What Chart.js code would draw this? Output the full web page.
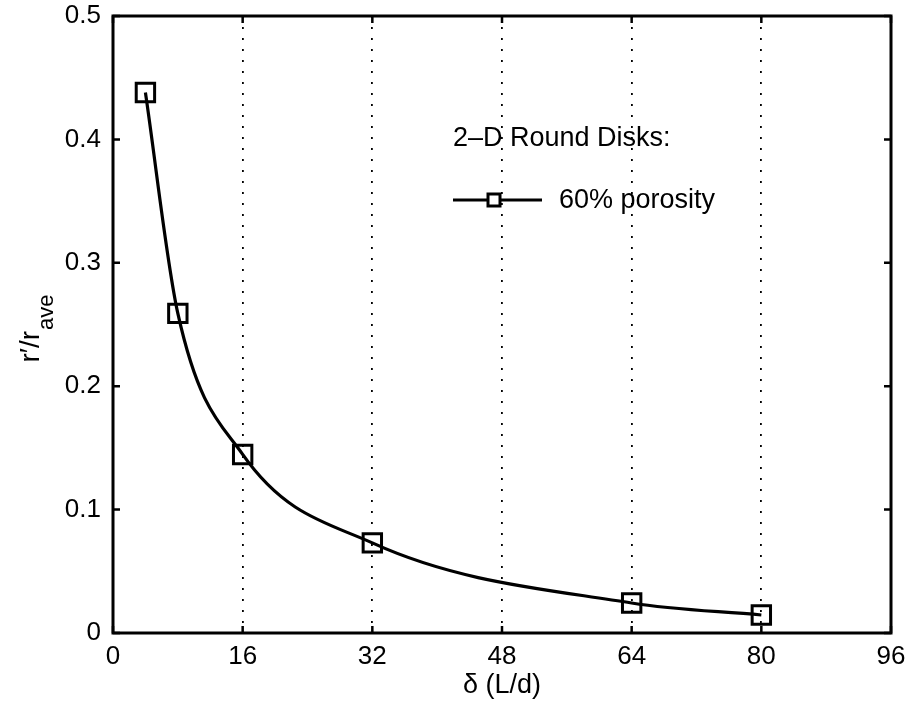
<!DOCTYPE html>
<html>
<head>
<meta charset="utf-8">
<script src="https://cdn.jsdelivr.net/npm/chart.js@4.4.1/dist/chart.umd.min.js"></script>
<style>
  html,body{margin:0;padding:0;background:#fff;}
  #wrap{width:909px;height:707px;position:relative;}
</style>
</head>
<body>
<div id="wrap"><canvas id="c" width="909" height="707"></canvas></div>
<script>
// data
const delta=[4,8,16,32,64,80];
const ratio=[0.438,0.259,0.1447,0.073,0.0243,0.0146];
const xTicks=[0,16,32,48,64,80,96];
const yTicks=[0,0.1,0.2,0.3,0.4,0.5];
const legendTitle='2\u2013D Round Disks:';
const seriesName='60% porosity';

const FONT='"Liberation Sans", Arial, Helvetica, sans-serif';

// box, inward ticks, axis titles, legend
const decor={
  id:'decor',
  afterDraw(chart){
    const {ctx,chartArea:a,scales:{x,y}}=chart;
    ctx.save();
    ctx.strokeStyle='#000';
    ctx.lineWidth=3;
    ctx.strokeRect(a.left,a.top,a.right-a.left,a.bottom-a.top);
    ctx.lineWidth=2.5;
    const tl=7;
    xTicks.forEach(v=>{
      const px=x.getPixelForValue(v);
      ctx.beginPath();
      ctx.moveTo(px,a.bottom);ctx.lineTo(px,a.bottom-tl);
      ctx.moveTo(px,a.top);ctx.lineTo(px,a.top+tl);
      ctx.stroke();
    });
    yTicks.forEach(v=>{
      const py=y.getPixelForValue(v);
      ctx.beginPath();
      ctx.moveTo(a.left,py);ctx.lineTo(a.left+tl,py);
      ctx.moveTo(a.right,py);ctx.lineTo(a.right-tl,py);
      ctx.stroke();
    });

    // x title
    ctx.fillStyle='#000';
    ctx.font='27px '+FONT;
    ctx.textAlign='center';ctx.textBaseline='middle';
    ctx.fillText('\u03b4 (L/d)',(a.left+a.right)/2,686);

    // y title with subscript
    ctx.save();
    ctx.translate(39,329);
    ctx.rotate(-Math.PI/2);
    ctx.textAlign='left';ctx.textBaseline='alphabetic';
    const main='r\u2032/r';
    ctx.font='28px '+FONT;
    const w1=ctx.measureText(main).width;
    ctx.font='22px '+FONT;
    const w2=ctx.measureText('ave').width;
    const x0=-(w1+w2)/2;
    ctx.font='28px '+FONT;
    ctx.fillText(main,x0,0);
    ctx.font='22px '+FONT;
    ctx.fillText('ave',x0+w1+1,14);
    ctx.restore();

    // legend
    ctx.font='27px '+FONT;
    ctx.textAlign='left';ctx.textBaseline='middle';
    ctx.fillText(legendTitle,453,139);
    ctx.lineWidth=3;
    ctx.beginPath();ctx.moveTo(453,200);ctx.lineTo(542,200);ctx.stroke();
    ctx.fillStyle='#fff';
    ctx.fillRect(488,194,12,12);
    ctx.strokeRect(488,194,12,12);
    ctx.fillStyle='#000';
    ctx.fillText(seriesName,559,201);
    ctx.restore();
  }
};

new Chart(document.getElementById('c'),{
  type:'line',
  data:{
    datasets:[{
      label:seriesName,
      data:delta.map((d,i)=>({x:d,y:ratio[i]})),
      borderColor:'#000',
      borderWidth:3.2,
      cubicInterpolationMode:'monotone',
      pointStyle:'rect',
      pointRadius:13,
      pointBorderWidth:3,
      pointBorderColor:'#000',
      pointBackgroundColor:'rgba(255,255,255,0)',
      fill:false
    }]
  },
  options:{
    responsive:false,
    animation:false,
    layout:{padding:{top:16,right:18,left:0,bottom:0}},
    plugins:{legend:{display:false},tooltip:{enabled:false}},
    scales:{
      x:{
        type:'linear',min:0,max:96,
        afterBuildTicks:s=>{s.ticks=xTicks.map(v=>({value:v}));},
        afterFit:s=>{s.height=74;s.paddingLeft=0;s.paddingRight=0;},
        border:{display:false,dash:[2,9]},
        grid:{
          drawTicks:false,
          color:c=>(c.tick&&c.tick.value>0&&c.tick.value<96)?'#000':'rgba(0,0,0,0)',
          lineWidth:1.8
        },
        ticks:{color:'#000',font:{size:26,family:FONT},padding:8,maxRotation:0,autoSkip:false}
      },
      y:{
        type:'linear',min:0,max:0.5,
        afterBuildTicks:s=>{s.ticks=yTicks.map(v=>({value:v}));},
        afterFit:s=>{s.width=113;s.paddingTop=0;s.paddingBottom=0;},
        border:{display:false},
        grid:{display:false},
        ticks:{color:'#000',font:{size:26,family:FONT},padding:4,
          callback:v=>String(+v.toFixed(1))}
      }
    }
  },
  plugins:[decor]
});
</script>
</body>
</html>
